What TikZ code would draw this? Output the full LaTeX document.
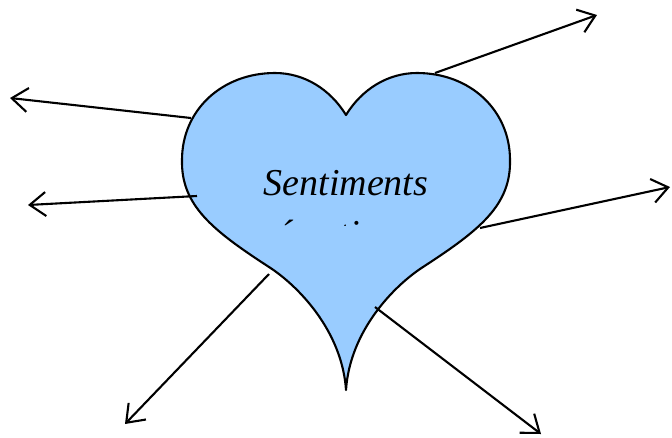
\documentclass[tikz,border=0pt]{standalone}
\usepackage{fontspec}
\setmainfont{Liberation Serif}
\usetikzlibrary{arrows.meta}
\definecolor{heartblue}{RGB}{153,204,255}
\tikzset{
  heartshape/.style={draw=black, fill=heartblue, line width=2.1pt, line join=round},
  ray/.style={draw=black, line width=2.1pt, -{Straight Barb[length=16pt,width=24pt,line width=2.1pt]}},
  label/.style={font=\itshape\fontsize{38}{44}\selectfont, inner sep=0pt}
}
\begin{document}
\begin{tikzpicture}[x=1pt,y=-1pt]
\useasboundingbox (0,0) rectangle (672,437);
% heart
\path[heartshape] (346,115)
  .. controls (362,89) and (388,73) .. (417,73)
  .. controls (470,73) and (510,110) .. (510,160)
  .. controls (511,205) and (480,230) .. (423,267)
  .. controls (395,285) and (350,330) .. (346,390)
  .. controls (342,330) and (297,285) .. (269,267)
  .. controls (212,230) and (181,205) .. (182,160)
  .. controls (182,110) and (222,73) .. (275,73)
  .. controls (304,73) and (330,89) .. (346,115) -- cycle;
% texts
\node[label, anchor=base] (t1) at (346,195) {Sentiments};
\begin{scope}
  \clip (150,100) rectangle (550,225);
  \node[label, anchor=base] (t2) at (344,246) {émotions};
\end{scope}
% ray ends
\coordinate (a1) at (435,73);  \coordinate (b1) at (597,15);
\coordinate (a2) at (191,118); \coordinate (b2) at (10,98);
\coordinate (a3) at (197,196); \coordinate (b3) at (28,205);
\coordinate (a4) at (480,228); \coordinate (b4) at (670,187);
\coordinate (a5) at (269,274); \coordinate (b5) at (125,424);
\coordinate (a6) at (375,307); \coordinate (b6) at (541,434);
\foreach \i in {1,...,6} { \draw[ray] (a\i) -- (b\i); }
\end{tikzpicture}
\end{document}
